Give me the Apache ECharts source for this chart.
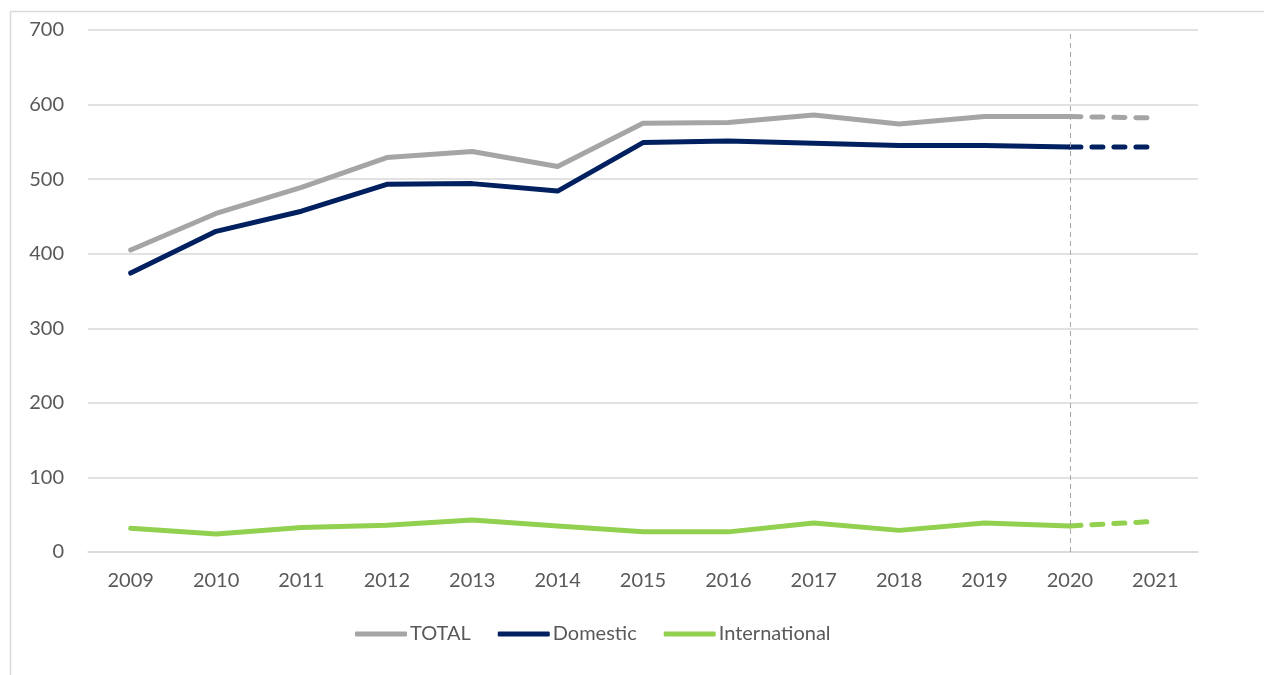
<!DOCTYPE html>
<html>
<head>
<meta charset="utf-8">
<script src="https://cdn.jsdelivr.net/npm/echarts@6/dist/echarts.min.js"></script>
<style>
  html, body { margin: 0; padding: 0; background: #fff; }
  #chart { width: 1264px; height: 675px; }
</style>
</head>
<body>
<div id="chart"></div>
<script>
var years = ['2009', '2010', '2011', '2012', '2013', '2014', '2015', '2016', '2017', '2018', '2019', '2020', '2021']
var total = [405, 454, 489, 529, 537, 517, 575, 576, 586, 574, 584, 584, 582]
var domestic = [374, 430, 457, 493, 494, 484, 549, 551, 548, 545, 545, 543, 543]
var international = [32, 24, 33, 36, 43, 35, 27, 27, 39, 29, 39, 35, 41]
var forecastFrom = 11 // 2020 -> 2021 drawn dashed

function solidPart(arr) {
  return arr.map(function (v, i) { return i <= forecastFrom ? v : null })
}
function dashedPart(arr) {
  return arr.map(function (v, i) { return i >= forecastFrom ? v : null })
}

var colors = { total: '#a5a5a5', domestic: '#002060', international: '#92d050' }
var font = 'Lato, "Open Sans", sans-serif'

function lineSeries(name, data, color, dashed) {
  return {
    name: name,
    type: 'line',
    data: data,
    symbol: 'none',
    silent: true,
    lineStyle: {
      color: color,
      width: 5,
      cap: 'round',
      join: 'round',
      type: dashed ? [11, 11] : 'solid',
    },
    itemStyle: { color: color },
    z: dashed ? 2 : 3,
  }
}

var chart = echarts.init(document.getElementById('chart'))
chart.setOption({
  animation: false,
  textStyle: { fontFamily: font },
  graphic: [
    {
      type: 'rect',
      shape: { x: 10.5, y: 11.5, width: 1400, height: 800 },
      style: { fill: 'none', stroke: '#d9d9d9', lineWidth: 1.5 },
      silent: true,
    },
  ],
  grid: { left: 88, right: 66, top: 30, bottom: 123 },
  legend: {
    top: 619,
    left: 350,
    icon: 'roundRect',
    itemWidth: 52,
    itemHeight: 5,
    itemGap: 27,
    textStyle: { color: '#595959', fontSize: 20, fontFamily: font, padding: [0, 0, 0, -2] },
    data: ['TOTAL', 'Domestic', 'International'],
  },
  xAxis: {
    type: 'category',
    data: years,
    boundaryGap: true,
    axisLine: { show: true, lineStyle: { color: '#d9d9d9', width: 1.5 } },
    axisTick: { show: false },
    axisLabel: { color: '#595959', fontSize: 20, margin: 19, fontFamily: font },
  },
  yAxis: {
    type: 'value',
    min: 0,
    max: 700,
    interval: 100,
    axisLine: { show: false },
    axisTick: { show: false },
    axisLabel: { color: '#595959', fontSize: 20, margin: 24, fontFamily: font },
    splitLine: { lineStyle: { color: '#d9d9d9', width: 1.5 } },
  },
  series: [
    Object.assign(lineSeries('TOTAL', solidPart(total), colors.total, false), {
      markLine: {
        silent: true,
        symbol: 'none',
        label: { show: false },
        lineStyle: { color: '#a6a6a6', type: [5, 4], width: 1 },
        data: [{ xAxis: '2020' }],
      },
    }),
    lineSeries('Domestic', solidPart(domestic), colors.domestic, false),
    lineSeries('International', solidPart(international), colors.international, false),
    lineSeries('TOTAL forecast', dashedPart(total), colors.total, true),
    lineSeries('Domestic forecast', dashedPart(domestic), colors.domestic, true),
    lineSeries('International forecast', dashedPart(international), colors.international, true),
  ],
})
</script>
</body>
</html>
